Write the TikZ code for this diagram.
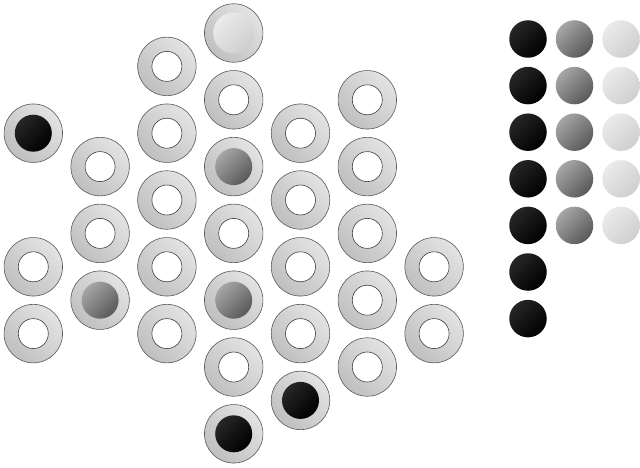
\documentclass[tikz,border=0pt]{standalone}
\begin{document}
\begin{tikzpicture}[x=1pt,y=-1pt,
  ring/.style={circle,inner sep=0pt,minimum size=58.5pt,draw=black!65,line width=0.6pt,
    top color=black!11,bottom color=black!25,shading angle=-45},
  hole/.style={circle,inner sep=0pt,minimum size=30pt,draw=black!75,line width=0.6pt,fill=white},
  blackball/.style={circle,inner sep=0pt,minimum size=37pt,top color=black!85,bottom color=black,shading angle=45},
  grayball/.style={circle,inner sep=0pt,minimum size=37pt,top color=black!35,bottom color=black!65,shading angle=45},
  lightball/.style={circle,inner sep=0pt,minimum size=37pt,top color=black!8,bottom color=black!19,shading angle=45},
  bigball/.style={lightball,minimum size=41pt}]
\useasboundingbox (0,0) rectangle (640,468);
\fill[white] (0,0) rectangle (640,468);
% rings
\foreach \i/\j in {0/3,0/7,0/9,1/4,1/6,1/8,2/1,2/3,2/5,2/7,2/9,
  3/0,3/2,3/4,3/6,3/8,3/10,3/12,4/3,4/5,4/7,4/9,4/11,5/2,5/4,5/6,5/8,5/10,6/7,6/9}
  \node[ring] (r-\i-\j) at ({33.3+66.8*\i},{33+33.4*\j}) {};
% empty holes
\foreach \i/\j in {0/7,0/9,1/4,1/6,2/1,2/3,2/5,2/7,2/9,
  3/2,3/6,3/10,4/3,4/5,4/7,4/9,5/2,5/4,5/6,5/8,5/10,6/7,6/9}
  \node[hole] (h-\i-\j) at (r-\i-\j.center) {};
% balls on the board
\node[blackball] (b-0-3) at (r-0-3.center) {};
\node[blackball] (b-3-12) at (r-3-12.center) {};
\node[blackball] (b-4-11) at (r-4-11.center) {};
\node[grayball] (b-1-8) at (r-1-8.center) {};
\node[grayball] (b-3-4) at (r-3-4.center) {};
\node[grayball] (b-3-8) at (r-3-8.center) {};
\node[bigball] (b-3-0) at (r-3-0.center) {};
% reserve balls
\foreach \k in {0,...,6}
  \node[blackball,minimum size=37.5pt] (sb-\k) at (528,{39+46.6*\k}) {};
\foreach \k in {0,...,4}{
  \node[grayball,minimum size=37.5pt] (sg-\k) at (574.5,{39+46.6*\k}) {};
  \node[lightball,minimum size=37.5pt] (sl-\k) at (621,{39+46.6*\k}) {};
}
\end{tikzpicture}
\end{document}
